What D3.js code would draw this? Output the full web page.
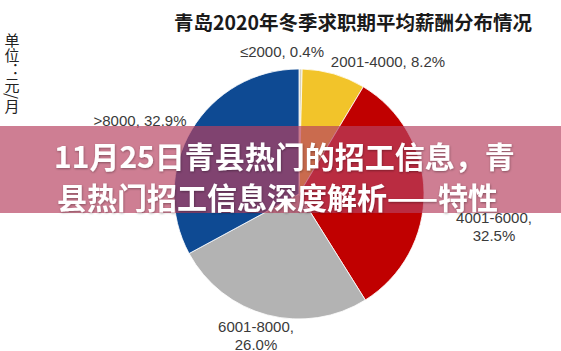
<!DOCTYPE html>
<html>
<head>
<meta charset="utf-8">
<script src="https://cdn.jsdelivr.net/npm/d3@7"></script>
<style>
  html, body { margin: 0; padding: 0; background: #fff; }
  svg { display: block; }
</style>
</head>
<body>
<div id="chart"></div>
<script>
// salary bands, clockwise from 12 o'clock
const categories = ["≤2000", "2001-4000", "4001-6000", "6001-8000", ">8000"];
const shares = [0.4, 8.2, 32.5, 26.0, 32.9];
const sliceColors = ["#d8d2bc", "#f2c42a", "#c00000", "#b3b3b3", "#0e4a93"];
const chartTitle = "青岛2020年冬季求职期平均薪酬分布情况";
const unitLabel = "单位：元/月";
const bannerLines = ["11月25日青县热门的招工信息，青", "县热门招工信息深度解析——特性"];

const W = 561, H = 351;
const cx = 299, cy = 194, radius = 125;

// where each data label sits (text centre), and whether it wraps to 2 lines
const labelLayout = {
  "≤2000":     { x: 282, y: 52,  wrap: false },
  "2001-4000": { x: 388, y: 62,  wrap: false },
  "4001-6000": { x: 494, y: 218, wrap: true },
  "6001-8000": { x: 256, y: 327, wrap: true },
  ">8000":     { x: 140, y: 121, wrap: false }
};

const svg = d3.select("#chart").append("svg")
  .attr("width", W).attr("height", H);

svg.append("rect").attr("width", W).attr("height", H).attr("fill", "#fff");

// title
svg.append("text")
  .attr("x", 353).attr("y", 30)
  .attr("text-anchor", "middle")
  .attr("font-family", "'Noto Sans CJK SC', sans-serif")
  .attr("font-weight", "bold")
  .attr("font-size", "19.5px")
  .attr("fill", "#1a1a1a")
  .text(chartTitle);

// vertical unit label
svg.append("text")
  .attr("x", 12).attr("y", 33)
  .attr("writing-mode", "vertical-rl")
  .attr("font-family", "'Noto Sans CJK SC', sans-serif")
  .attr("font-size", "15px")
  .attr("fill", "#222")
  .text(unitLabel);

// pie
const data = categories.map((c, i) => ({ cat: c, value: shares[i], color: sliceColors[i] }));
const pie = d3.pie().sort(null).value(d => d.value);
const arc = d3.arc().innerRadius(0).outerRadius(radius);

const g = svg.append("g").attr("transform", `translate(${cx},${cy})`);
g.selectAll("path")
  .data(pie(data))
  .join("path")
  .attr("d", arc)
  .attr("fill", d => d.data.color)
  .attr("stroke", "#fff")
  .attr("stroke-width", 0.8);

// data labels
const labels = svg.append("g")
  .attr("font-family", "'Liberation Sans', Arial, sans-serif")
  .attr("font-size", "15px")
  .attr("fill", "#3a3a3a")
  .attr("text-anchor", "middle");

data.forEach(d => {
  const L = labelLayout[d.cat];
  const pct = d.value.toFixed(1) + "%";
  if (L.wrap) {
    labels.append("text").attr("x", L.x).attr("y", L.y + 5).text(d.cat + ",");
    labels.append("text").attr("x", L.x).attr("y", L.y + 23).text(pct);
  } else {
    labels.append("text").attr("x", L.x).attr("y", L.y + 5).text(d.cat + ", " + pct);
  }
});

// translucent banner with headline
svg.append("rect")
  .attr("x", 0).attr("y", 126)
  .attr("width", W).attr("height", 87)
  .attr("fill", "rgb(183,65,96)")
  .attr("fill-opacity", 0.68);

const defs = svg.append("defs");
const f = defs.append("filter").attr("id", "sh").attr("x", "-5%").attr("y", "-20%")
  .attr("width", "110%").attr("height", "140%");
f.append("feDropShadow").attr("dx", 0.5).attr("dy", 1).attr("stdDeviation", 1)
  .attr("flood-color", "#000").attr("flood-opacity", 0.35);

svg.append("g")
  .attr("font-family", "'Noto Sans CJK SC', sans-serif")
  .attr("font-weight", "bold")
  .attr("font-size", "30px")
  .attr("fill", "#fff")
  .attr("filter", "url(#sh)")
  .selectAll("text")
  .data(bannerLines)
  .join("text")
  .attr("x", (d, i) => i === 0 ? 54 : 57)
  .attr("y", (d, i) => i === 0 ? 168 : 209)
  .text(d => d);
</script>
</body>
</html>
